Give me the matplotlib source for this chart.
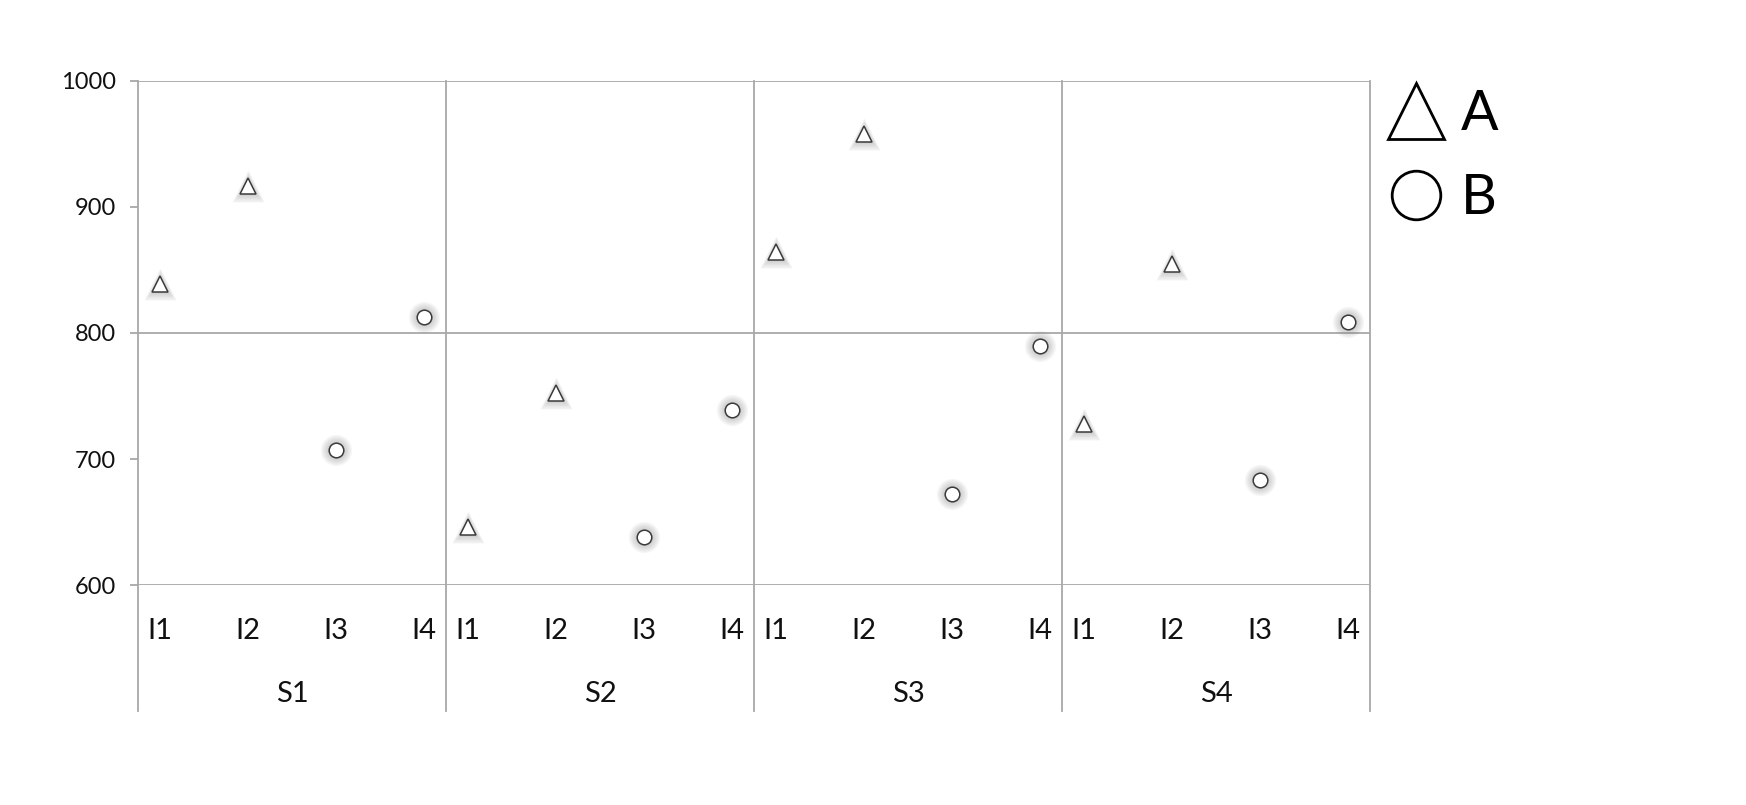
import matplotlib
matplotlib.use("Agg")
import matplotlib.pyplot as plt
from matplotlib.lines import Line2D
import numpy as np

plt.rcParams['font.family'] = ['Lato', 'DejaVu Sans']

groups = ["S1", "S2", "S3", "S4"]
items = ["I1", "I2", "I3", "I4"]
# series A at I1, I2 ; series B at I3, I4 (per group)
a_values = [[839, 917], [646, 752], [864, 958], [728, 855]]
b_values = [[707, 813], [638, 739], [672, 790], [683, 809]]
yticks = [600, 700, 800, 900, 1000]

W, H = 1746, 805
fig = plt.figure(figsize=(W / 100, H / 100), dpi=100)
L, R, T, B = 138, 1370, 81, 585
ax = fig.add_axes([L / W, (H - B) / H, (R - L) / W, (B - T) / H])

gc = '#a8a8a8'
ng = len(groups)
ni = len(items)
ax.set_xlim(0, ng)
ax.set_ylim(600, 1000)

def xpos(g, i):
    return g + (1 + 4 * i) / (4 * ni - 2)

# glow + markers
def draw(xs, ys, marker, ms):
    for k, extra in enumerate(np.linspace(12, 2, 6)):
        ax.plot(xs, ys, ls='none', marker=marker, ms=ms + extra, mfc='#808080',
                mec='none', alpha=0.07, zorder=3, clip_on=False)
    ax.plot(xs, ys, ls='none', marker=marker, ms=ms, mfc='white', mec='#3a3a3a',
            mew=1.1, zorder=4, clip_on=False)

ax_x, ax_y, bx, by = [], [], [], []
for g in range(ng):
    for j, v in enumerate(a_values[g]):
        ax_x.append(xpos(g, j)); ax_y.append(v)
    for j, v in enumerate(b_values[g]):
        bx.append(xpos(g, j + 2)); by.append(v)
draw(ax_x, ax_y, '^', 11)
draw(bx, by, 'o', 10.5)

# grid and frame
for s in ax.spines.values():
    s.set_visible(False)
for y in (600, 800, 1000):
    ax.axhline(y, color=gc, lw=1.3, zorder=1)
ax.set_yticks(yticks)
ax.tick_params(axis='y', length=6, width=1.3, color=gc, pad=10, labelsize=17, labelcolor='#111111')
ax.set_xticks([])

tr = ax.get_xaxis_transform()
bottom_ext = -(711 - B) / (B - T)
for g in range(ng + 1):
    ax.plot([g, g], [1.0, bottom_ext], color=gc, lw=1.3, transform=tr, clip_on=False, zorder=1)

for g in range(ng):
    for i in range(ni):
        ax.text(xpos(g, i), -(631 - B) / (B - T), items[i], transform=tr,
                ha='center', va='center', fontsize=21, color='#111111')
    ax.text(g + 0.5, -(694 - B) / (B - T), groups[g], transform=tr,
            ha='center', va='center', fontsize=21, color='#111111')

handles = [Line2D([], [], ls='none', marker='^', ms=40, mfc='white', mec='black', mew=2),
           Line2D([], [], ls='none', marker='o', ms=35, mfc='white', mec='black', mew=2)]
fig.legend(handles, ['A', 'B'], loc='upper left', bbox_to_anchor=(1380 / W, 1 - 89 / H),
           frameon=False, fontsize=40, handlelength=1.3, handletextpad=0.15,
           labelspacing=0.6, borderpad=0, borderaxespad=0)

fig.savefig('out.png', dpi=100, facecolor='white')
